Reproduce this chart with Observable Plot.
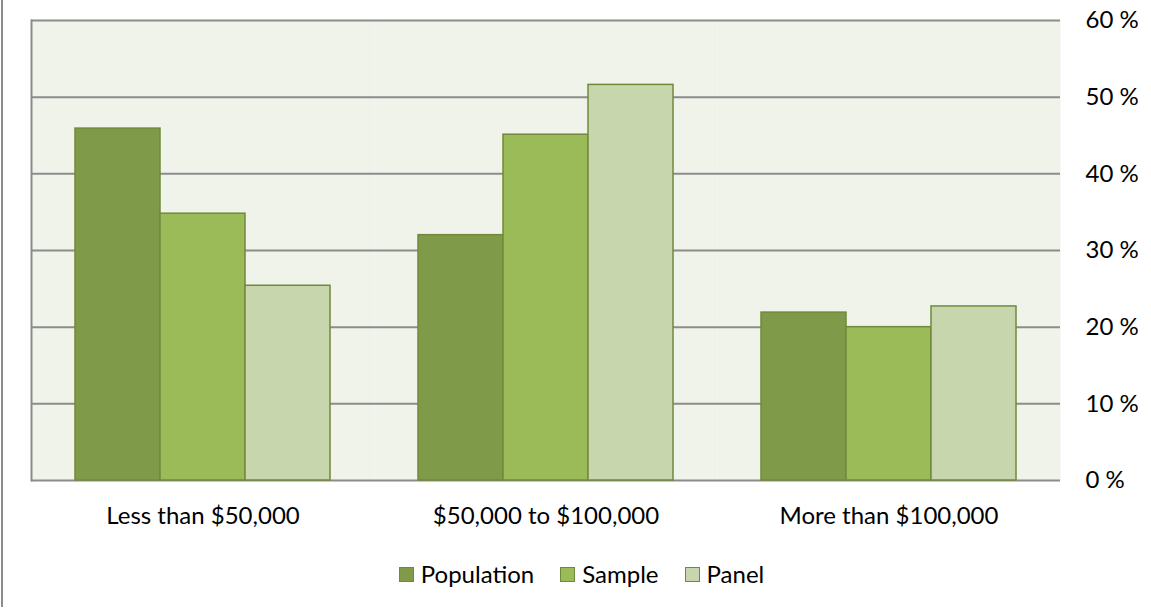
<!DOCTYPE html>
<html>
<head>
<meta charset="utf-8">
<script src="https://cdn.jsdelivr.net/npm/d3@7"></script>
<script src="https://cdn.jsdelivr.net/npm/@observablehq/plot@0.6"></script>
<style>
  html, body { margin: 0; padding: 0; background: #fff; }
  #wrap { position: relative; width: 1151px; height: 609px; font-family: "Lato", sans-serif; }
  #edge { position: absolute; left: 1px; top: 0; width: 2px; height: 607px; background: #8c8c8c; }
  #legend { display: flex; justify-content: center; align-items: center; padding-left: 12px; margin-top: 15px; font-size: 24px; line-height: 28px; color: #000; }
  .item { display: flex; align-items: center; margin: 0 13px; }
  .sw { width: 13px; height: 13px; border: 1.5px solid #71893c; margin-right: 7px; }
</style>
</head>
<body>
<div id="wrap">
  <div id="edge"></div>
  <div id="chart"></div>
  <div id="legend"></div>
</div>
<script>
const groups = ["Less than $50,000", "$50,000 to $100,000", "More than $100,000"];
const series = ["Population", "Sample", "Panel"];
const population = [45.9, 32.0, 21.9];
const sample = [34.8, 45.1, 20.0];
const panel = [25.4, 51.6, 22.7];
const yTicks = [0, 10, 20, 30, 40, 50, 60];
const colors = ["#7F9A48", "#9BBB59", "#C7D6AC"];

const values = {Population: population, Sample: sample, Panel: panel};
const data = [];
groups.forEach((g, i) => series.forEach(s => data.push({group: g, series: s, value: values[s][i]})));

const chart = Plot.plot({
  width: 1151,
  height: 545,
  marginLeft: 31,
  marginRight: 91,
  marginTop: 20,
  marginBottom: 65,
  style: {fontFamily: "Lato, sans-serif", fontSize: "24px", color: "#000", background: "transparent", overflow: "visible"},
  fx: {domain: groups, padding: 0, label: null},
  x: {domain: series, paddingInner: 0, paddingOuter: 0.5, axis: null},
  y: {domain: [0, 60]},
  color: {domain: series, range: colors},
  marks: [
    Plot.frame({fill: "#EFF3EA", stroke: null}),
    Plot.ruleY(yTicks, {stroke: "#8c8c8c", strokeWidth: 2}),
    Plot.frame({anchor: "left", stroke: "#8c8c8c", strokeWidth: 2, facetAnchor: "left"}),
    Plot.barY(data, {fx: "group", x: "series", y: "value", fill: "series", stroke: "#71893c", strokeWidth: 1.5}),
    Plot.axisY(yTicks, {anchor: "right", tickSize: 0, tickPadding: 25, tickFormat: d => d + " %", fontSize: 24, label: null}),
    Plot.axisFx({anchor: "bottom", tickSize: 0, tickPadding: 26, fontSize: 24, label: null})
  ]
});
document.getElementById("chart").appendChild(chart);

const legend = document.getElementById("legend");
series.forEach((s, i) => {
  const item = document.createElement("div");
  item.className = "item";
  const sw = document.createElement("div");
  sw.className = "sw";
  sw.style.background = colors[i];
  const t = document.createElement("span");
  t.textContent = s;
  item.appendChild(sw);
  item.appendChild(t);
  legend.appendChild(item);
});
</script>
</body>
</html>
